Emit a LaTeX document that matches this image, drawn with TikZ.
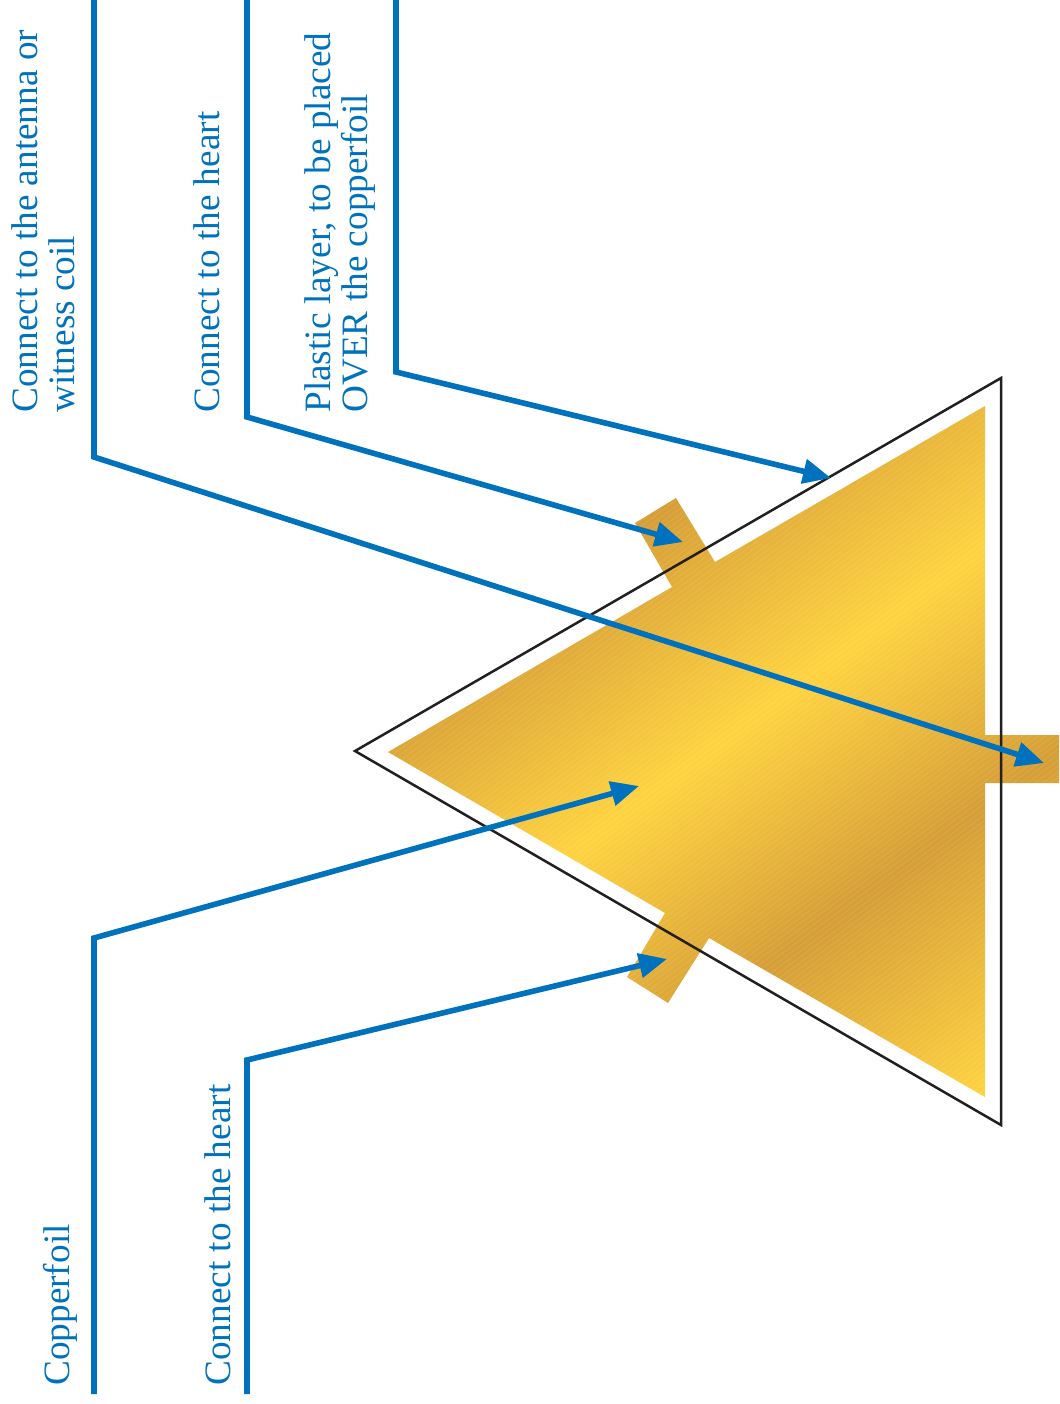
\documentclass[tikz,border=0pt]{standalone}
\usepackage{fontspec}
\setmainfont{Liberation Serif}
\usetikzlibrary{arrows.meta}

\definecolor{foilblue}{HTML}{0071BC}
\definecolor{golddark}{HTML}{D69E37}
\definecolor{goldlight}{HTML}{FFD340}
\definecolor{outlineblack}{HTML}{231F20}

\pgfdeclareverticalshading{goldfoil}{100bp}{
color(0bp)=(golddark); color(39bp)=(golddark); color(50.3bp)=(goldlight);
color(60.8bp)=(golddark); color(72.4bp)=(goldlight); color(100bp)=(goldlight)}

\tikzset{
  callout/.style={draw=foilblue, line width=0.112cm, line join=miter,
    -{Triangle[length=0.56cm,width=0.48cm]}},
  calloutlabel/.style={text=foilblue, rotate=90, anchor=north west, inner sep=0pt,
    align=left, font=\fontsize{21.2}{21.3}\selectfont}
}

\begin{document}
\begin{tikzpicture}[x=0.02cm,y=-0.02cm]
\useasboundingbox (0,0) rectangle (1059,1404);

% copper foil with its three tabs
\begin{scope}
\clip (388,752) -- (672,587) -- (635,523) -- (676,498) -- (715,562) -- (985,406)
  -- (985,735) -- (1059,735) -- (1059,783) -- (985,783) -- (985,1097) -- (709,938)
  -- (668,1003) -- (627,977) -- (665,913) -- cycle;
\shade[shading=goldfoil, shading angle=-143.5] (200,250) rectangle (1200,1250);
\foreach \s in {800,804.5,...,1480} {
  \draw[white, opacity=0.14, line width=0.3pt]
    (300,{(\s-178.5)/0.804}) -- (1100,{(\s-654.5)/0.804});
}
\end{scope}

% plastic layer
\path (355,751) coordinate (tip) (1001,378) coordinate (top) (1001,1125) coordinate (bottom);
\draw[outlineblack, line width=0.05cm, line join=miter] (tip) -- (top) -- (bottom) -- cycle;

\path
(11,413) node[calloutlabel] (antenna) {Connect to the antenna or\\witness coil}
(193,413) node[calloutlabel] (heart-a) {Connect to the heart}
(304,413) node[calloutlabel] (plastic) {Plastic layer, to be placed\\OVER the copperfoil}
(43,1386) node[calloutlabel] (copper) {Copperfoil}
(204,1386) node[calloutlabel] (heart-b) {Connect to the heart};

\path
(94,0) coordinate (antenna-start) (94,457) coordinate (antenna-bend) (1044,763) coordinate (antenna-end)
(247,0) coordinate (heart-a-start) (247,417) coordinate (heart-a-bend) (683,542) coordinate (heart-a-end)
(396,0) coordinate (plastic-start) (396,372) coordinate (plastic-bend) (831,478) coordinate (plastic-end)
(94,1394) coordinate (copper-start) (94,938) coordinate (copper-bend) (639,786) coordinate (copper-end)
(247,1394) coordinate (heart-b-start) (247,1060) coordinate (heart-b-bend) (667,959) coordinate (heart-b-end);

\draw[callout] (antenna-start) -- (antenna-bend) -- (antenna-end);
\draw[callout] (heart-a-start) -- (heart-a-bend) -- (heart-a-end);
\draw[callout] (plastic-start) -- (plastic-bend) -- (plastic-end);
\draw[callout] (copper-start) -- (copper-bend) -- (copper-end);
\draw[callout] (heart-b-start) -- (heart-b-bend) -- (heart-b-end);
\end{tikzpicture}
\end{document}
